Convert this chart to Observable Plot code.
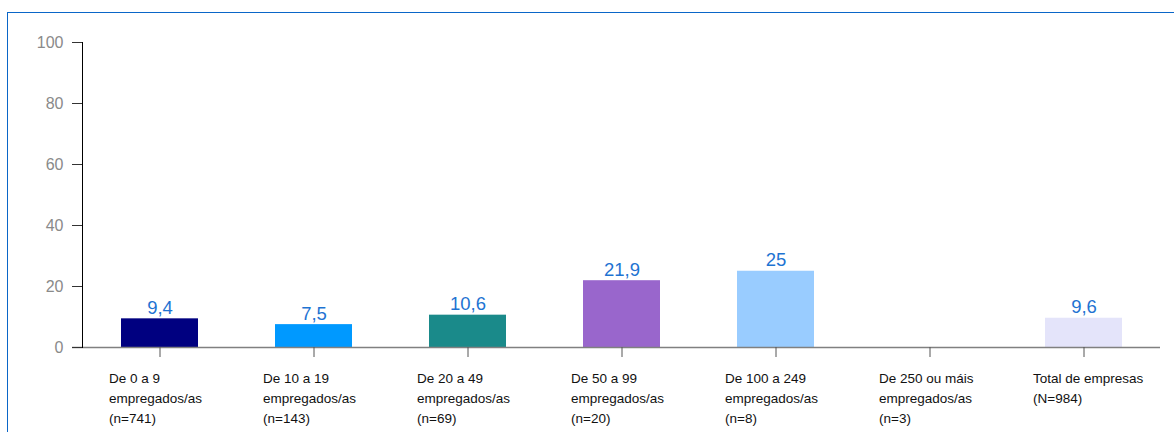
<!DOCTYPE html>
<html>
<head>
<meta charset="utf-8">
<script src="https://cdn.jsdelivr.net/npm/d3@7"></script>
<script src="https://cdn.jsdelivr.net/npm/@observablehq/plot@0.6"></script>
<style>
  html, body { margin: 0; padding: 0; background: #fff; overflow: hidden; width: 1174px; height: 432px; }
  #wrap { position: relative; width: 1174px; height: 432px; }
  #border { position: absolute; left: 7px; top: 12px; width: 1300px; height: 600px; border: 1.5px solid #0a66c8; box-sizing: border-box; }
  #chart { position: absolute; left: 0; top: 0; }
  svg { font-family: "Liberation Sans", Arial, sans-serif; }
</style>
</head>
<body>
<div id="wrap">
  <div id="border"></div>
  <div id="chart"></div>
</div>
<script>
const categories = [
  "De 0 a 9\nempregados/as\n(n=741)",
  "De 10 a 19\nempregados/as\n(n=143)",
  "De 20 a 49\nempregados/as\n(n=69)",
  "De 50 a 99\nempregados/as\n(n=20)",
  "De 100 a 249\nempregados/as\n(n=8)",
  "De 250 ou máis\nempregados/as\n(n=3)",
  "Total de empresas\n(N=984)"
];
const values = [9.4, 7.5, 10.6, 21.9, 25, null, 9.6];
const colors = ["#000080", "#0099ff", "#1a8a8a", "#9966cc", "#99ccff", "#cccccc", "#e4e4fa"];
const yTicks = [0, 20, 40, 60, 80, 100];

const data = categories.map((c, i) => ({cat: c, value: values[i]}));
const withValue = data.filter(d => d.value != null);
const fmt = v => String(v).replace(".", ",");

const chart = Plot.plot({
  width: 1174,
  height: 432,
  marginLeft: 82,
  marginRight: 14,
  marginTop: 42,
  marginBottom: 85,
  style: {fontFamily: '"Liberation Sans", Arial, sans-serif', background: "transparent"},
  x: {domain: categories, paddingInner: 0.5, paddingOuter: 0.25, axis: null, label: null},
  y: {domain: [0, 100], axis: null, label: null},
  color: {domain: categories, range: colors},
  marks: [
    Plot.barY(withValue, {x: "cat", y: "value", fill: "cat"}),
    Plot.ruleY([0], {stroke: "#808080", strokeWidth: 1.5, insetLeft: -10}),
    Plot.frame({anchor: "left", stroke: "#000", strokeWidth: 1}),
    Plot.axisY({ticks: yTicks, tickSize: 10, tickPadding: 9, fontSize: 16, stroke: "#333", fill: "#8a8a8a", tickFormat: d => d, label: null}),
    Plot.axisX({tickSize: 10, stroke: "#555", tickFormat: () => "", label: null}),
    Plot.text(withValue, {x: "cat", y: "value", text: d => fmt(d.value), lineAnchor: "bottom", dy: -5, fontSize: 18.5, fill: "#1e73d2"}),
    Plot.text(data, {x: "cat", frameAnchor: "bottom", text: "cat", textAnchor: "start", dx: -51, dy: 22, lineAnchor: "top", fontSize: 13.5, lineHeight: 1.45, fill: "#111", style: "letter-spacing:0.8px"})
  ]
});
document.getElementById("chart").appendChild(chart);
</script>
</body>
</html>
